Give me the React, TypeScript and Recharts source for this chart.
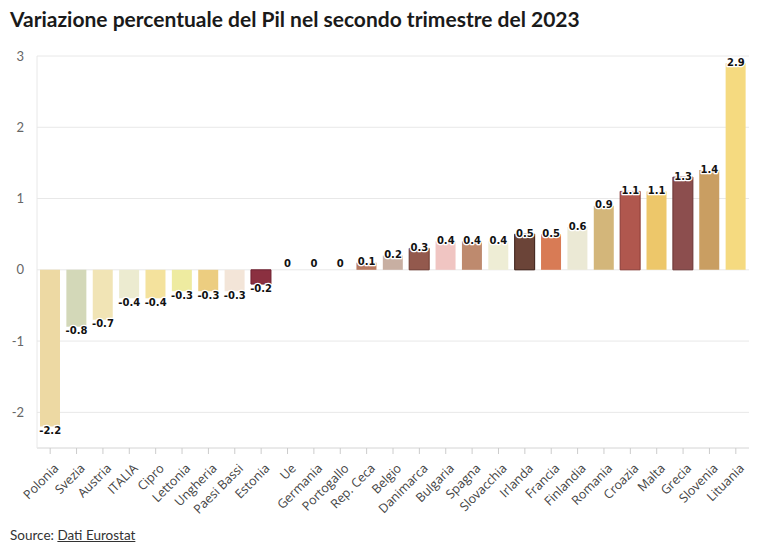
import React from 'react';
import { ComposedChart, Bar, Line, XAxis, YAxis, CartesianGrid, Cell, LabelList } from 'recharts';

// Paesi dell'Ue ordinati per variazione del Pil (secondo trimestre 2023, %)
const countries = [
  'Polonia', 'Svezia', 'Austria', 'ITALIA', 'Cipro', 'Lettonia', 'Ungheria', 'Paesi Bassi', 'Estonia',
  'Ue', 'Germania', 'Portogallo', 'Rep. Ceca', 'Belgio', 'Danimarca', 'Bulgaria', 'Spagna', 'Slovacchia',
  'Irlanda', 'Francia', 'Finlandia', 'Romania', 'Croazia', 'Malta', 'Grecia', 'Slovenia', 'Lituania',
];
const gdpChange = [
  -2.2, -0.8, -0.7, -0.4, -0.4, -0.3, -0.3, -0.3, -0.2,
  0, 0, 0, 0.1, 0.2, 0.3, 0.4, 0.4, 0.4,
  0.5, 0.5, 0.6, 0.9, 1.1, 1.1, 1.3, 1.4, 2.9,
];
const barColors = [
  '#EDD9A3', '#D3D8B8', '#F1E4B5', '#ECEBD0', '#F4E29D', '#EEEBA0', '#ECCD80', '#F3E5D8', '#8B3040',
  '#cccccc', '#cccccc', '#cccccc', '#B87A60', '#C8AFA2', '#93594D', '#F0C5C2', '#BE8A6E', '#EEEDD5',
  '#6B4438', '#D87B55', '#EBE9D5', '#D3B67A', '#B0574E', '#EDC76A', '#8C4E4E', '#C99E62', '#F5DA80',
];
// Thin outline on the darker bars
const barStrokes = [
  'none', 'none', 'none', 'none', 'none', 'none', 'none', 'none', '#6E2030',
  'none', 'none', 'none', 'none', 'none', '#6E3A30', 'none', 'none', 'none',
  '#3A1C14', 'none', 'none', 'none', '#8A3A34', 'none', '#6A3434', 'none', 'none',
];
const yTicks = [-2, -1, 0, 1, 2, 3];

const data = countries.map((name, i) => ({ name, value: gdpChange[i] }));

// Value labels sit on the end of each bar; the point y is the bar end
const ValueLabel = (props: any) => {
  const { x, y, value } = props;
  let cy: number;
  if (value > 0) cy = y - 1;
  else if (value === 0) cy = y - 6;
  else cy = y + 4;
  return (
    <text
      x={x}
      y={cy}
      dy="0.35em"
      textAnchor="middle"
      fontFamily="'DejaVu Sans', sans-serif"
      fontWeight="bold"
      fontSize={10}
      fill="#111"
      stroke="#fff"
      strokeWidth={2.5}
      strokeLinejoin="round"
      paintOrder="stroke"
    >
      {String(value)}
    </text>
  );
};

const CountryTick = (props: any) => {
  const { x, y, payload } = props;
  return (
    <g transform={`translate(${x + 3},${y + 7})`}>
      <text
        x={0}
        y={0}
        dy="0.7em"
        textAnchor="end"
        transform="rotate(-45)"
        fontFamily="'Open Sans', sans-serif"
        fontSize={12.5}
        fill="#444"
      >
        {payload.value}
      </text>
    </g>
  );
};

export default function App() {
  return (
    <div style={{ position: 'absolute', left: 0, top: 0, width: 767, height: 555, background: '#fff' }}>
      <div
        style={{
          position: 'absolute',
          left: 10,
          top: 6,
          fontFamily: 'Lato, sans-serif',
          fontWeight: 700,
          fontSize: 21,
          color: '#1a1a1a',
          whiteSpace: 'nowrap',
        }}
      >
        Variazione percentuale del Pil nel secondo trimestre del 2023
      </div>
      <ComposedChart
        width={767}
        height={555}
        data={data}
        margin={{ top: 56, right: 18, bottom: 0, left: 0 }}
        barSize={20}
      >
        <CartesianGrid horizontal vertical={false} stroke="#e8e8e8" />
        <XAxis
          dataKey="name"
          interval={0}
          height={107}
          axisLine={{ stroke: '#e0e0e0' }}
          tickLine={{ stroke: '#ccc' }}
          tickSize={6}
          tick={<CountryTick />}
        />
        <YAxis
          width={37}
          domain={[-2.5, 3]}
          ticks={yTicks}
          allowDataOverflow
          axisLine={{ stroke: '#e8e8e8' }}
          tickLine={false}
          tickMargin={7}
          tick={{ fontFamily: 'Lato, sans-serif', fontSize: 13, fill: '#666' }}
        />
        <Bar dataKey="value" isAnimationActive={false}>
          {data.map((d, i) => (
            <Cell key={d.name} fill={barColors[i]} stroke={barStrokes[i]} strokeWidth={1} />
          ))}
        </Bar>
        <Line
          dataKey="value"
          stroke="none"
          dot={false}
          activeDot={false}
          legendType="none"
          isAnimationActive={false}
        >
          <LabelList dataKey="value" content={<ValueLabel />} />
        </Line>
      </ComposedChart>
      <div
        style={{
          position: 'absolute',
          left: 10,
          top: 527,
          fontFamily: 'Lato, sans-serif',
          fontSize: 13.5,
          color: '#333',
        }}
      >
        Source: <span style={{ textDecoration: 'underline' }}>Dati Eurostat</span>
      </div>
    </div>
  );
}
